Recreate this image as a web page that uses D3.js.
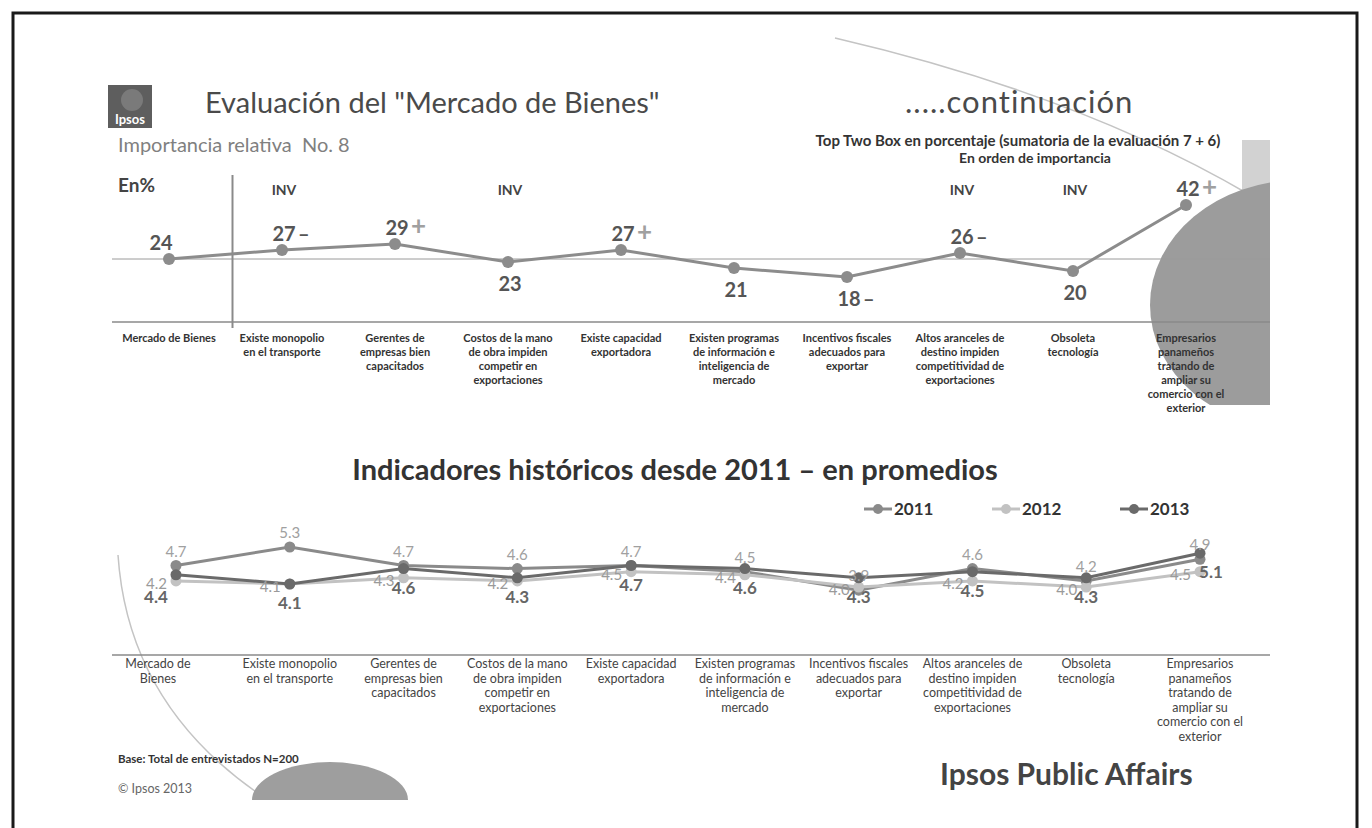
<!DOCTYPE html>
<html>
<head>
<meta charset="utf-8">
<script src="https://cdn.jsdelivr.net/npm/d3@7"></script>
<style>
body{margin:0;background:#fff;}
svg{display:block;font-family:Lato,"Open Sans",sans-serif;}
</style>
</head>
<body>
<svg id="viz" width="1372" height="828"></svg>
<script>
// datos
var etiquetasTop = [
	["Mercado de Bienes"],
	["Existe monopolio", "en el transporte"],
	["Gerentes de", "empresas bien", "capacitados"],
	["Costos de la mano", "de obra impiden", "competir en", "exportaciones"],
	["Existe capacidad", "exportadora"],
	["Existen programas", "de información e", "inteligencia de", "mercado"],
	["Incentivos fiscales", "adecuados para", "exportar"],
	["Altos aranceles de", "destino impiden", "competitividad de", "exportaciones"],
	["Obsoleta", "tecnología"],
	["Empresarios", "panameños", "tratando de", "ampliar su", "comercio con el", "exterior"]
];
var etiquetasBottom = [["Mercado de", "Bienes"]].concat(etiquetasTop.slice(1));

var valoresTop = [24, 27, 29, 23, 27, 21, 18, 26, 20, 42];
var signos = ["", "–", "+", "", "+", "", "–", "–", "", "+"];
var inv = [false, true, false, true, false, false, false, true, true, false];

var anios = ["2011", "2012", "2013"];
var serie2011 = [4.7, 5.3, 4.7, 4.6, 4.7, 4.5, 3.9, 4.6, 4.2, 4.9];
var serie2012 = [4.2, 4.1, 4.3, 4.2, 4.5, 4.4, 4.0, 4.2, 4.0, 4.5];
var serie2013 = [4.4, 4.1, 4.6, 4.3, 4.7, 4.6, 4.3, 4.5, 4.3, 5.1];

var svg = d3.select('#viz');

// --- decoracion de fondo
svg.append('path')
	.attr('d', 'M835 38 Q1080 95 1250 195')
	.attr('fill', 'none').attr('stroke', '#c4c4c4').attr('stroke-width', 1.5);
svg.append('path')
	.attr('d', 'M118 555 Q128 705 262 796')
	.attr('fill', 'none').attr('stroke', '#c4c4c4').attr('stroke-width', 1.5);

svg.append('clipPath').attr('id', 'clipCirc')
	.append('rect').attr('x', 1140).attr('y', 140).attr('width', 130).attr('height', 265);
var deco = svg.append('g').attr('clip-path', 'url(#clipCirc)');
deco.append('rect').attr('x', 1242).attr('y', 140).attr('width', 28).attr('height', 265).attr('fill', '#d2d2d2');
deco.append('ellipse').attr('cx', 1300).attr('cy', 305).attr('rx', 150).attr('ry', 125).attr('fill', '#9c9c9c');

svg.append('path')
	.attr('d', 'M252 800 A78 38 0 0 1 408 800 Z')
	.attr('fill', '#9e9e9e');

// marco
svg.append('path')
	.attr('d', 'M13 828 V13 H1357 V828')
	.attr('fill', 'none').attr('stroke', '#1a1a1a').attr('stroke-width', 3);

// --- encabezado
var logo = svg.append('g');
logo.append('rect').attr('x', 108).attr('y', 85).attr('width', 44).attr('height', 43).attr('fill', '#5e5e5e');
logo.append('circle').attr('cx', 132).attr('cy', 100).attr('r', 11).attr('fill', '#7a7a7a');
logo.append('text').attr('x', 130).attr('y', 124).attr('text-anchor', 'middle')
	.attr('fill', '#fff').attr('font-size', 13).attr('font-weight', 'bold').text('Ipsos');

svg.append('text').attr('x', 205).attr('y', 113).attr('font-size', 29).attr('fill', '#4a4a4a')
	.text('Evaluación del "Mercado de Bienes"');
svg.append('text').attr('x', 905).attr('y', 113).attr('font-size', 31).attr('fill', '#4a4a4a')
	.attr('letter-spacing', 1)
	.text('.....continuación');
svg.append('text').attr('x', 118).attr('y', 152).attr('font-size', 20).attr('fill', '#808080')
	.style('white-space', 'pre')
	.text('Importancia relativa  No. 8');
svg.append('text').attr('x', 1018).attr('y', 146).attr('text-anchor', 'middle').attr('font-size', 15)
	.attr('font-weight', 'bold').attr('fill', '#333')
	.text('Top Two Box en porcentaje (sumatoria de la evaluación 7 + 6)');
svg.append('text').attr('x', 1035).attr('y', 163).attr('text-anchor', 'middle').attr('font-size', 14)
	.attr('font-weight', 'bold').attr('fill', '#333').text('En orden de importancia');
svg.append('text').attr('x', 118).attr('y', 192).attr('font-size', 19).attr('font-weight', 'bold')
	.attr('fill', '#444').text('En%');

// --- grafico superior
var xTop = d3.scalePoint().domain(d3.range(valoresTop.length)).range([169, 1186]);
var yTop = d3.scaleLinear().domain([0, 50]).range([331, 181]);

svg.append('line').attr('x1', 112).attr('x2', 1270)
	.attr('y1', yTop(valoresTop[0])).attr('y2', yTop(valoresTop[0]))
	.attr('stroke', '#9a9a9a').attr('stroke-width', 1);
svg.append('line').attr('x1', 112).attr('x2', 1270).attr('y1', 322).attr('y2', 322)
	.attr('stroke', '#8a8a8a').attr('stroke-width', 1.5);
var xSep = (xTop(0) + xTop(1)) / 2 + 7;
svg.append('line').attr('x1', xSep).attr('x2', xSep).attr('y1', 175).attr('y2', 328)
	.attr('stroke', '#8a8a8a').attr('stroke-width', 2);

svg.selectAll('.inv').data(d3.range(inv.length).filter(function(i){ return inv[i]; }))
	.enter().append('text').attr('class', 'inv')
	.attr('x', function(i){ return xTop(i) + 2; })
	.attr('y', 195).attr('text-anchor', 'middle').attr('font-size', 14).attr('font-weight', 'bold')
	.attr('fill', '#444').text('INV');

var lineTop = d3.line().x(function(d, i){ return xTop(i); }).y(function(d){ return yTop(d); });
svg.append('path').datum(valoresTop).attr('d', lineTop)
	.attr('fill', 'none').attr('stroke', '#8c8c8c').attr('stroke-width', 3);
svg.selectAll('.ptTop').data(valoresTop).enter().append('circle').attr('class', 'ptTop')
	.attr('cx', function(d, i){ return xTop(i); })
	.attr('cy', function(d){ return yTop(d); })
	.attr('r', 6).attr('fill', '#8c8c8c');

var labTop = svg.selectAll('.labTop').data(valoresTop).enter().append('g').attr('class', 'labTop')
	.attr('transform', function(d, i){
		var above = d >= valoresTop[0];
		var dx = i === 0 ? -8 : 2;
		return 'translate(' + (xTop(i) + dx) + ',' + (yTop(d) + (above ? -9 : 29)) + ')';
	});
labTop.append('text').attr('text-anchor', 'middle').attr('font-size', 20).attr('font-weight', 'bold')
	.attr('fill', '#555').text(function(d){ return d; });
labTop.append('text').attr('x', 14).attr('font-size', function(d, i){ return signos[i] === '+' ? 26 : 20; })
	.attr('font-weight', 'bold')
	.attr('fill', function(d, i){ return signos[i] === '+' ? '#a0a0a0' : '#555'; })
	.text(function(d, i){ return signos[i]; });

svg.selectAll('.catTop').data(etiquetasTop).enter().append('text').attr('class', 'catTop')
	.attr('text-anchor', 'middle').attr('font-size', 11).attr('font-weight', 'bold').attr('fill', '#333')
	.each(function(lines, i){
		d3.select(this).selectAll('tspan').data(lines).enter().append('tspan')
			.attr('x', xTop(i)).attr('y', function(l, k){ return 342 + k * 14; })
			.text(function(l){ return l; });
	});

// --- grafico inferior
svg.append('text').attr('x', 675).attr('y', 480).attr('text-anchor', 'middle').attr('font-size', 29)
	.attr('font-weight', 'bold').attr('fill', '#333')
	.text('Indicadores históricos desde 2011 – en promedios');

var xBot = d3.scalePoint().domain(d3.range(serie2011.length)).range([176, 1200]);
var yBot = d3.scaleLinear().domain([4.1, 5.3]).range([584, 547]);
var colores = d3.scaleOrdinal().domain(anios).range(['#8a8a8a', '#c2c2c2', '#6a6a6a']);
var series = [serie2011, serie2012, serie2013];

svg.append('line').attr('x1', 112).attr('x2', 1270).attr('y1', 655).attr('y2', 655)
	.attr('stroke', '#8a8a8a').attr('stroke-width', 1.5);

var lineBot = d3.line().x(function(d, i){ return xBot(i); }).y(function(d){ return yBot(d); });
series.forEach(function(s, k){
	var c = colores(anios[k]);
	svg.append('path').datum(s).attr('d', lineBot)
		.attr('fill', 'none').attr('stroke', c).attr('stroke-width', 3);
	svg.selectAll('.pt' + k).data(s).enter().append('circle').attr('class', 'pt' + k)
		.attr('cx', function(d, i){ return xBot(i); })
		.attr('cy', function(d){ return yBot(d); })
		.attr('r', 5.5).attr('fill', c);
});

// etiquetas de datos: 2011 arriba, 2012 a la izquierda, 2013 abajo
svg.selectAll('.l2011').data(serie2011).enter().append('text').attr('class', 'l2011')
	.attr('x', function(d, i){ return xBot(i); })
	.attr('y', function(d){ return yBot(d) - 9; })
	.attr('text-anchor', 'middle').attr('font-size', 15).attr('fill', '#a0a0a0')
	.text(function(d){ return d.toFixed(1); });
svg.selectAll('.l2012').data(serie2012).enter().append('text').attr('class', 'l2012')
	.attr('x', function(d, i){ return xBot(i) - 9; })
	.attr('y', function(d){ return yBot(d) + 8; })
	.attr('text-anchor', 'end').attr('font-size', 15).attr('fill', '#9a9a9a')
	.text(function(d){ return d.toFixed(1); });
var last = serie2013.length - 1;
svg.selectAll('.l2013').data(serie2013).enter().append('text').attr('class', 'l2013')
	.attr('x', function(d, i){ return xBot(i) + (i === 0 ? -20 : i === last ? 11 : 0); })
	.attr('y', function(d, i){ return yBot(d) + (i === 0 ? 28 : 25); })
	.attr('text-anchor', 'middle').attr('font-size', 17).attr('font-weight', 'bold').attr('fill', '#666')
	.text(function(d){ return d.toFixed(1); });

// leyenda
var leg = svg.selectAll('.leg').data(anios).enter().append('g').attr('class', 'leg')
	.attr('transform', function(d, i){ return 'translate(' + (864 + i * 128) + ',509)'; });
leg.append('line').attr('x1', 0).attr('x2', 28).attr('stroke', function(d){ return colores(d); }).attr('stroke-width', 3);
leg.append('circle').attr('cx', 14).attr('r', 5).attr('fill', function(d){ return colores(d); });
leg.append('text').attr('x', 30).attr('y', 6).attr('font-size', 17).attr('font-weight', 'bold')
	.attr('fill', '#333').text(function(d){ return d; });

svg.selectAll('.catBot').data(etiquetasBottom).enter().append('text').attr('class', 'catBot')
	.attr('text-anchor', 'middle').attr('font-size', 12.5).attr('fill', '#444')
	.each(function(lines, i){
		d3.select(this).selectAll('tspan').data(lines).enter().append('tspan')
			.attr('x', xBot(i) - (i === 0 ? 18 : 0)).attr('y', function(l, k){ return 668 + k * 14.5; })
			.text(function(l){ return l; });
	});

// --- pie
svg.append('text').attr('x', 118).attr('y', 763).attr('font-size', 11.5).attr('font-weight', 'bold')
	.attr('fill', '#333').text('Base: Total de entrevistados N=200');
svg.append('text').attr('x', 118).attr('y', 793).attr('font-size', 12.5).attr('fill', '#666')
	.text('© Ipsos 2013');
svg.append('text').attr('x', 940).attr('y', 785).attr('font-size', 30).attr('font-weight', 'bold')
	.attr('fill', '#444')
	.text('Ipsos Public Affairs');
</script>
</body>
</html>
